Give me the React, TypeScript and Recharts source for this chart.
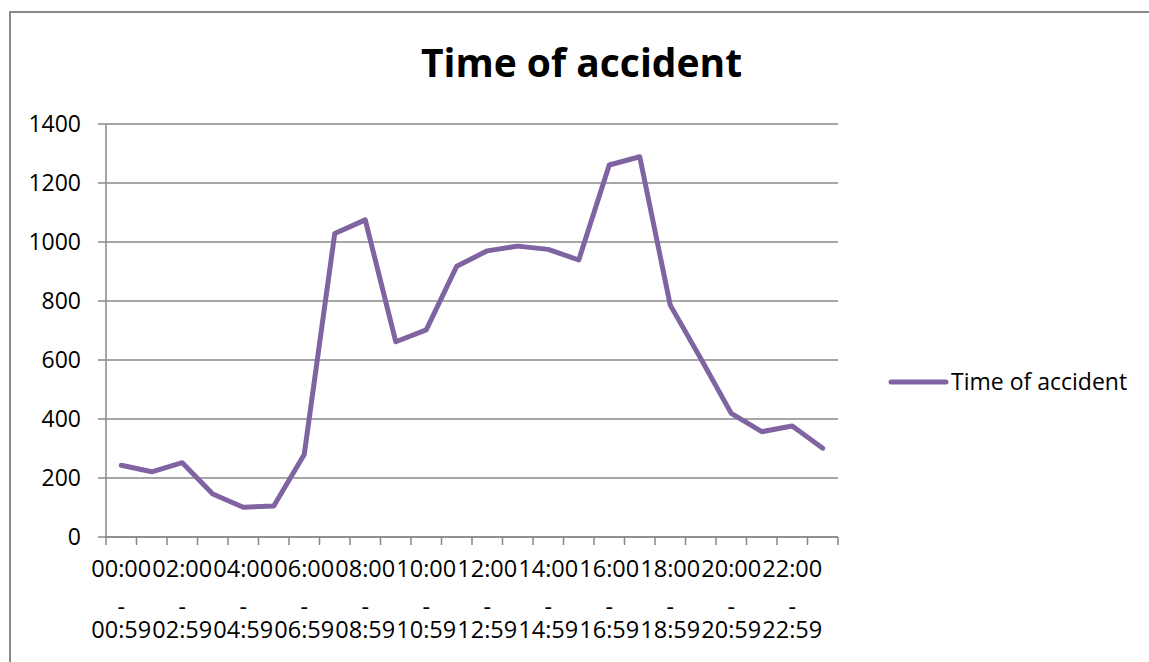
import { LineChart, Line, XAxis, YAxis, CartesianGrid, Legend } from "recharts";

const HOURS = [
  "00:00 - 00:59", "01:00 - 01:59", "02:00 - 02:59", "03:00 - 03:59",
  "04:00 - 04:59", "05:00 - 05:59", "06:00 - 06:59", "07:00 - 07:59",
  "08:00 - 08:59", "09:00 - 09:59", "10:00 - 10:59", "11:00 - 11:59",
  "12:00 - 12:59", "13:00 - 13:59", "14:00 - 14:59", "15:00 - 15:59",
  "16:00 - 16:59", "17:00 - 17:59", "18:00 - 18:59", "19:00 - 19:59",
  "20:00 - 20:59", "21:00 - 21:59", "22:00 - 22:59", "23:00 - 23:59",
];

const ACCIDENTS = [
  243, 221, 252, 146, 101, 105, 280, 1029, 1075, 662, 702, 918,
  970, 986, 975, 939, 1261, 1289, 786, 605, 419, 357, 376, 301,
];

const Y_TICKS = [0, 200, 400, 600, 800, 1000, 1200, 1400];

const SERIES = "Time of accident";
const PURPLE = "#8064A2";
const GRID = "#898989";
const FONT = "'Open Sans', sans-serif";

// each category spans [i, i+1]; the point sits in the middle
const data = HOURS.map((h, i) => ({ x: i + 0.5, label: h, value: ACCIDENTS[i] }));

// integer ticks = category boundaries (tick marks), x.5 ticks = labels (every other hour)
const X_TICKS: number[] = [];
for (let i = 0; i <= HOURS.length; i++) {
  X_TICKS.push(i);
  if (i < HOURS.length && i % 2 === 0) X_TICKS.push(i + 0.5);
}

function HourTick({ x, y, payload }: any) {
  const v = payload.value as number;
  if (Number.isInteger(v)) {
    return <line x1={x} x2={x} y1={y} y2={y + 8} stroke={GRID} strokeWidth={1.5} />;
  }
  const [from, to] = HOURS[Math.floor(v)].split(" - ");
  return (
    <text x={x} y={y + 40} fontFamily={FONT} fontSize={23.5} fill="#000" textAnchor="middle">
      <tspan x={x}>{from}</tspan>
      <tspan x={x} dy={38}>-</tspan>
      <tspan x={x} dy={23}>{to}</tspan>
    </text>
  );
}

function LegendBox() {
  return (
    <svg width={262} height={40}>
      <line x1={5} x2={60} y1={20} y2={20} stroke={PURPLE} strokeWidth={5} strokeLinecap="round" />
      <text x={65} y={27.5} fontFamily={FONT} fontSize={23} fill="#000">{SERIES}</text>
    </svg>
  );
}

export default function App() {
  return (
    <div style={{ position: "absolute", left: 0, top: 0, width: 1149, height: 662, overflow: "hidden", background: "#fff", fontFamily: FONT }}>
      <div style={{ position: "absolute", left: 9, top: 11, width: 1200, height: 700, border: "2px solid #898989", boxSizing: "border-box" }} />
      <div style={{ position: "absolute", left: 0, top: 42, width: 1163, textAlign: "center", fontSize: 39, fontWeight: 700, lineHeight: 1, color: "#000" }}>
        {SERIES}
      </div>
      <div style={{ position: "absolute", left: 0, top: 0 }}>
        <LineChart width={1149} height={662} data={data} margin={{ top: 124, right: 311, bottom: 0, left: 0 }}>
          <CartesianGrid vertical={false} stroke={GRID} strokeWidth={1.5} />
          <XAxis
            type="number"
            dataKey="x"
            domain={[0, HOURS.length]}
            ticks={X_TICKS}
            interval={0}
            height={125}
            tickLine={false}
            tickSize={0}
            tickMargin={0}
            axisLine={{ stroke: GRID, strokeWidth: 1.5 }}
            tick={<HourTick />}
          />
          <YAxis
            domain={[0, 1400]}
            ticks={Y_TICKS}
            interval={0}
            width={106}
            tickSize={8}
            tickMargin={17}
            axisLine={{ stroke: GRID, strokeWidth: 1.5 }}
            tickLine={{ stroke: GRID, strokeWidth: 1.5 }}
            tick={{ fontFamily: FONT, fontSize: 23, fill: "#000" }}
          />
          <Legend
            layout="horizontal"
            align="center"
            verticalAlign="middle"
            content={<LegendBox />}
            wrapperStyle={{ left: 886, top: 362, width: 262, height: 40 }}
          />
          <Line
            type="linear"
            dataKey="value"
            name={SERIES}
            stroke={PURPLE}
            strokeWidth={5}
            strokeLinecap="round"
            strokeLinejoin="round"
            dot={false}
            isAnimationActive={false}
          />
        </LineChart>
      </div>
    </div>
  );
}
